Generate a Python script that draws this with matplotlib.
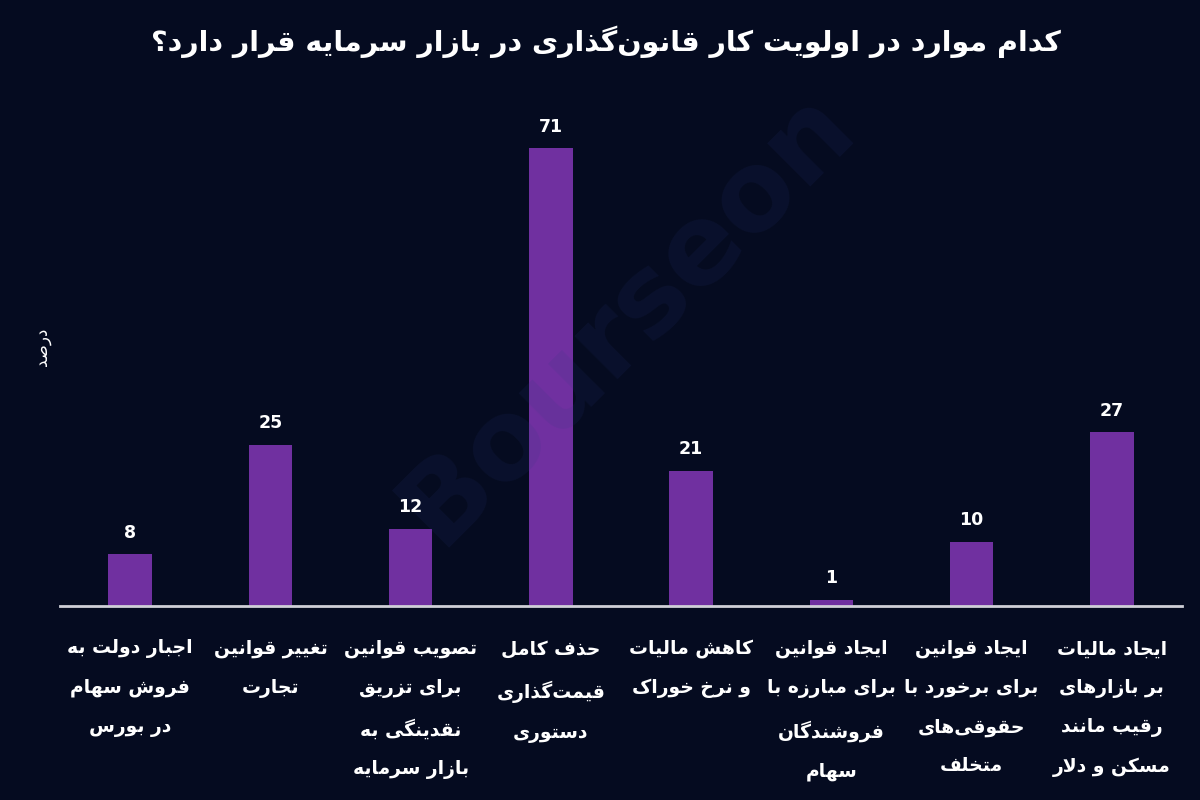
import matplotlib
matplotlib.use('Agg')
import matplotlib.pyplot as plt

# data
categories = [
    'اجبار دولت به\nفروش سهام\nدر بورس',
    'تغییر قوانین\nتجارت',
    'تصویب قوانین\nبرای تزریق\nنقدینگی به\nبازار سرمایه',
    'حذف کامل\nقیمت\u200cگذاری\nدستوری',
    'کاهش مالیات\nو نرخ خوراک',
    'ایجاد قوانین\nبرای مبارزه با\nفروشندگان\nسهام',
    'ایجاد قوانین\nبرای برخورد با\nحقوقی\u200cهای\nمتخلف',
    'ایجاد مالیات\nبر بازارهای\nرقیب مانند\nمسکن و دلار',
]
values = [8, 25, 12, 71, 21, 1, 10, 27]
title = 'کدام موارد در اولویت کار قانون\u200cگذاری در بازار سرمایه قرار دارد؟'
ylabel = 'درصد'

# matplotlib has no arabic shaping, so do a small one by hand
dual = {'ب': 0xFE8F, 'ت': 0xFE95, 'ث': 0xFE99, 'ج': 0xFE9D, 'ح': 0xFEA1,
        'خ': 0xFEA5, 'س': 0xFEB1, 'ش': 0xFEB5, 'ص': 0xFEB9, 'ض': 0xFEBD,
        'ط': 0xFEC1, 'ظ': 0xFEC5, 'ع': 0xFEC9, 'غ': 0xFECD, 'ف': 0xFED1,
        'ق': 0xFED5, 'ل': 0xFEDD, 'م': 0xFEE1, 'ن': 0xFEE5, 'ه': 0xFEE9,
        'ی': 0xFBFC, 'ک': 0xFB8E, 'گ': 0xFB92, 'پ': 0xFB56, 'چ': 0xFB7A}
right = {'ا': 0xFE8D, 'د': 0xFEA9, 'ذ': 0xFEAB, 'ر': 0xFEAD, 'ز': 0xFEAF,
         'و': 0xFEED, 'ژ': 0xFB8A}


def shape_line(line):
    out = []
    i = 0
    n = len(line)
    while i < n:
        c = line[i]
        if c not in dual and c not in right:
            if c != '\u200c':
                out.append(c)
            i += 1
            continue
        link_prev = i > 0 and line[i - 1] in dual
        if c == 'ل' and i + 1 < n and line[i + 1] == 'ا':
            out.append('\uFEFC' if link_prev else '\uFEFB')
            i += 2
            continue
        nxt = line[i + 1] if i + 1 < n else ''
        link_next = c in dual and (nxt in dual or nxt in right)
        base = dual.get(c, right.get(c))
        if link_prev and link_next:
            k = 3
        elif link_prev:
            k = 1
        elif link_next:
            k = 2
        else:
            k = 0
        out.append(chr(base + k))
        i += 1
    return ''.join(reversed(out))


def fa(text):
    return '\n'.join(shape_line(l) for l in text.split('\n'))


bg = '#050b20'
bar_color = '#7030A0'

fig = plt.figure(figsize=(12, 8), dpi=100, facecolor=bg)
ax = fig.add_axes([0.05, 0.2425, 0.935, 0.645])
ax.set_facecolor(bg)

x = range(len(values))
bars = ax.bar(x, values, width=0.31, color=bar_color, zorder=2)
for b, v in zip(bars, values):
    ax.text(b.get_x() + b.get_width() / 2, v + 1.9, str(v), ha='center', va='bottom',
            color='white', fontsize=12.5, fontweight='bold', zorder=4)

# faint watermark, sits over bars and background alike
ax.text(0.505, 0.56, 'Bourseon', transform=ax.transAxes, color='#2a3a80', alpha=0.13,
        fontsize=80, fontweight='bold', rotation=45, ha='center', va='center', zorder=3)

ax.set_xlim(-0.5, len(values) - 0.5)
ax.set_ylim(0, 80)
ax.set_xticks(list(x))
ax.set_xticklabels([fa(c) for c in categories], color='white', fontsize=13.5,
                   fontweight='bold', linespacing=2.3, va='top')
ax.tick_params(axis='x', length=0, pad=24)
ax.set_yticks([])
for s in ['top', 'right', 'left']:
    ax.spines[s].set_visible(False)
ax.spines['bottom'].set_color('#d0d0d8')
ax.spines['bottom'].set_linewidth(2)

fig.text(0.035, 0.566, fa(ylabel), rotation=90, color='white', fontsize=12,
         ha='center', va='center')
fig.text(0.505, 0.948, fa(title), color='white', fontsize=20.5, fontweight='bold',
         ha='center', va='center')

fig.savefig('out.png', dpi=100, facecolor=bg)
